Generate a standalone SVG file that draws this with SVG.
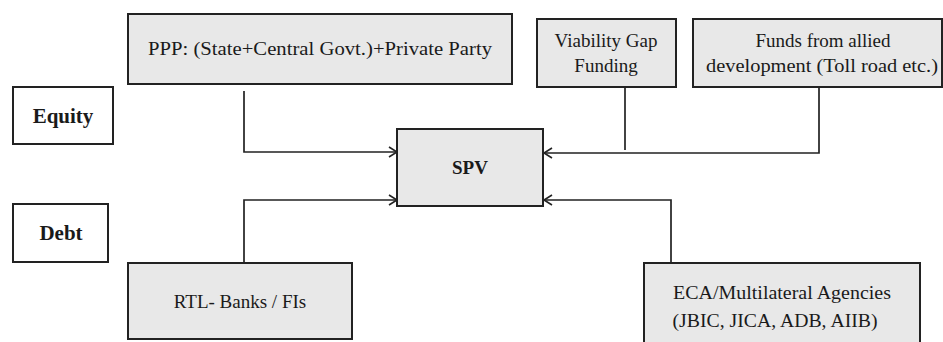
<svg xmlns="http://www.w3.org/2000/svg" width="943" height="342" viewBox="0 0 943 342">
<defs>
<style>
.box{fill:#e8e8e8;stroke:#222;stroke-width:2}
.lbl{fill:#fff;stroke:#222;stroke-width:2}
.txt{font-family:'Liberation Serif',serif;font-size:19px;fill:#1a1a1a;text-anchor:middle}
.bold{font-weight:bold}
.big{font-size:21px}
.c{fill:none;stroke:#222;stroke-width:1.7}
</style>
<marker id="ah" markerUnits="userSpaceOnUse" markerWidth="12" markerHeight="14" refX="10" refY="7" orient="auto">
<polyline points="2,2 10,7 2,12" fill="none" stroke="#222" stroke-width="1.6"/>
</marker>
</defs>
<rect width="943" height="342" fill="#fff"/>
<g id="connectors">
<path class="c" d="M244,91 V152 H397" marker-end="url(#ah)"/>
<path class="c" d="M244,263 V200 H397" marker-end="url(#ah)"/>
<path class="c" d="M625,87 V150"/>
<path class="c" d="M819,87 V153 H544" marker-end="url(#ah)"/>
<path class="c" d="M671,263 V200 H544" marker-end="url(#ah)"/>
</g>
<g id="ppp">
<rect class="box" x="128" y="14" width="384" height="70"/>
<text class="txt" font-family="Liberation Serif" x="320" y="55" textLength="344" lengthAdjust="spacingAndGlyphs">PPP: (State+Central Govt.)+Private Party</text>
</g>
<g id="equity">
<rect class="lbl" x="13" y="87" width="100" height="57"/>
<text class="txt bold big" font-family="Liberation Serif" x="63" y="123">Equity</text>
</g>
<g id="debt">
<rect class="lbl" x="13" y="204" width="95" height="58"/>
<text class="txt bold big" font-family="Liberation Serif" x="61" y="240">Debt</text>
</g>
<g id="spv">
<rect class="box" x="397" y="129" width="146" height="77"/>
<text class="txt bold" font-family="Liberation Serif" x="470" y="174">SPV</text>
</g>
<g id="vgf">
<rect class="box" x="537" y="19" width="139" height="68"/>
<text class="txt" font-family="Liberation Serif" x="606" y="47">Viability Gap</text>
<text class="txt" font-family="Liberation Serif" x="606" y="72">Funding</text>
</g>
<g id="funds">
<rect class="box" x="693" y="19" width="249" height="68"/>
<text class="txt" font-family="Liberation Serif" x="823" y="47">Funds from allied</text>
<text class="txt" font-family="Liberation Serif" x="822" y="72" textLength="232" lengthAdjust="spacingAndGlyphs">development (Toll road etc.)</text>
</g>
<g id="rtl">
<rect class="box" x="128" y="263" width="224" height="76"/>
<text class="txt" font-family="Liberation Serif" x="240" y="308">RTL- Banks / FIs</text>
</g>
<g id="eca">
<rect class="box" x="644" y="263" width="276" height="84"/>
<text class="txt" font-family="Liberation Serif" x="782" y="299" textLength="218" lengthAdjust="spacingAndGlyphs">ECA/Multilateral Agencies</text>
<text class="txt" font-family="Liberation Serif" x="775" y="327" textLength="205" lengthAdjust="spacingAndGlyphs">(JBIC, JICA, ADB, AIIB)</text>
</g>
</svg>
